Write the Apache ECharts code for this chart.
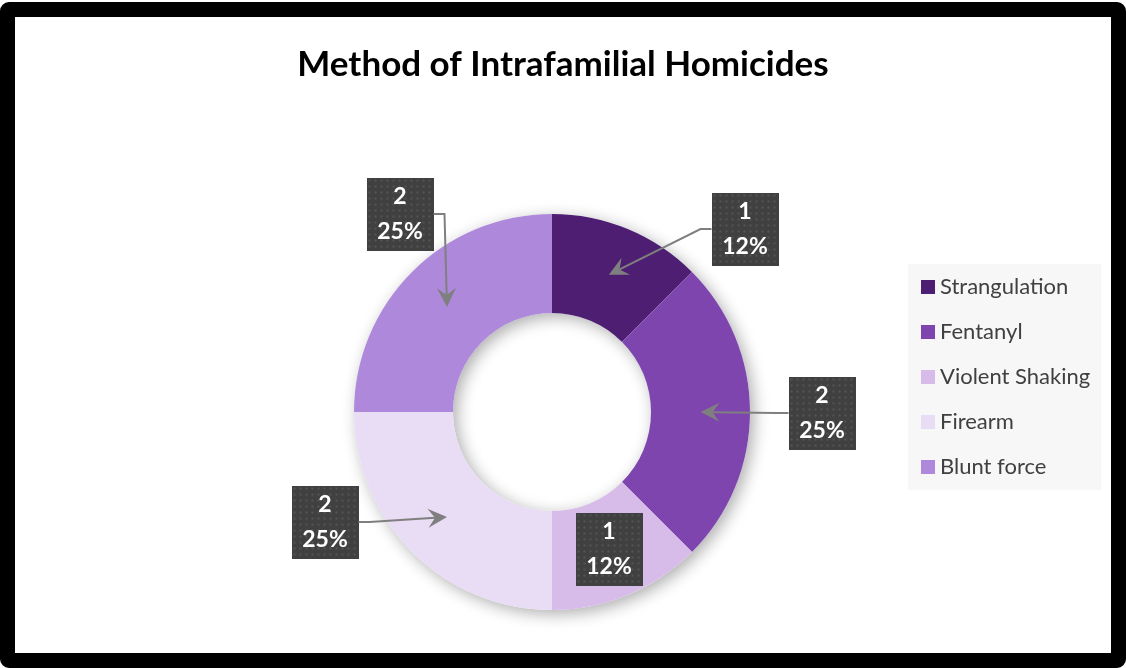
<!DOCTYPE html>
<html>
<head>
<meta charset="utf-8">
<script src="https://cdn.jsdelivr.net/npm/echarts@6/dist/echarts.min.js"></script>
<style>
  html, body { margin: 0; padding: 0; background: #fff; }
  .frame {
    position: absolute;
    left: 0; top: 2px;
    width: 1126px; height: 666px;
    box-sizing: border-box;
    border: 15px solid #000;
    border-radius: 9px;
    background: #fff;
  }
  #chart { width: 1096px; height: 636px; }
</style>
</head>
<body>
<div class="frame"><div id="chart"></div></div>
<script>
const methods = ['Strangulation', 'Fentanyl', 'Violent Shaking', 'Firearm', 'Blunt force'];
const counts = [1, 2, 1, 2, 2];
const sliceColors = ['#4d1e72', '#7e45ae', '#d7bce9', '#e9dcf5', '#ae88db'];

// layout (px, relative to chart box)
const CX = 537, CY = 395, R_IN = 99, R_OUT = 198;
const R_MID = (R_IN + R_OUT) / 2;
const BOX_W = 67;
const labelSpots = [[730, 212], [807, 396], [594, 532], [310, 505], [385, 197]];
const hasArrow = [true, true, false, true, true];
const FONT = 'Lato, "Open Sans", sans-serif';

const total = counts.reduce((a, b) => a + b, 0);
let acc = 0;
const tips = counts.map((v) => {
  const a = ((acc + v / 2) / total) * Math.PI * 2;
  acc += v;
  return [CX + R_MID * Math.sin(a), CY - R_MID * Math.cos(a)];
});

// dotted dark texture for the data label boxes
const makeTexture = () => {
  const c = document.createElement('canvas');
  c.width = BOX_W; c.height = 73;
  const g = c.getContext('2d');
  g.fillStyle = '#404040';
  g.fillRect(0, 0, c.width, c.height);
  g.fillStyle = '#545454';
  for (let y = 2; y < c.height; y += 6) {
    for (let x = 2; x < c.width; x += 6) g.fillRect(x, y, 2, 2);
  }
  return c;
};
const texture = makeTexture();

const arrowParts = (i) => {
  const [lx, ly] = labelSpots[i];
  const tip = tips[i];
  const dir = tip[0] < lx ? -1 : 1;
  const sx = lx + dir * BOX_W / 2;
  const bend = [sx + dir * 11, ly];
  const dx = tip[0] - bend[0], dy = tip[1] - bend[1];
  const len = Math.hypot(dx, dy);
  const ux = dx / len, uy = dy / len;
  const px = -uy, py = ux;
  const L = 19, W = 9.5, N = 12;
  const end = [tip[0] - ux * N, tip[1] - uy * N];
  return {
    line: [[sx, ly], bend, end],
    head: [
      tip,
      [tip[0] - ux * L + px * W, tip[1] - uy * L + py * W],
      [tip[0] - ux * N, tip[1] - uy * N],
      [tip[0] - ux * L - px * W, tip[1] - uy * L - py * W],
    ],
  };
};

const arrows = [];
counts.forEach((v, i) => {
  if (!hasArrow[i]) return;
  const { line, head } = arrowParts(i);
  arrows.push({
    type: 'polyline',
    z: 100,
    silent: true,
    shape: { points: line },
    style: { stroke: '#7f7f7f', lineWidth: 2, fill: null },
  });
  arrows.push({
    type: 'polygon',
    z: 100,
    silent: true,
    shape: { points: head },
    style: { fill: '#7f7f7f' },
  });
});

const chart = echarts.init(document.getElementById('chart'));

chart.setOption({
  animation: false,
  title: {
    text: 'Method of Intrafamilial Homicides',
    left: 'center',
    top: 25,
    textStyle: { fontFamily: FONT, fontSize: 35, fontWeight: 'bold', color: '#000' },
  },
  legend: {
    orient: 'vertical',
    left: 893,
    top: 247,
    data: methods,
    icon: 'rect',
    itemWidth: 14,
    itemHeight: 14,
    itemGap: 23,
    padding: [12, 11, 12, 13],
    backgroundColor: '#f7f7f7',
    selectedMode: false,
    textStyle: { fontFamily: FONT, fontSize: 22, color: '#404040' },
  },
  graphic: arrows,
  series: [
    {
      // soft shadow under the ring
      type: 'pie',
      silent: true,
      center: [CX, CY],
      radius: [R_IN, R_OUT],
      label: { show: false },
      labelLine: { show: false },
      itemStyle: {
        color: '#fff',
        shadowBlur: 16,
        shadowOffsetX: 4,
        shadowOffsetY: 4,
        shadowColor: 'rgba(0,0,0,0.32)',
      },
      data: [{ value: 1, name: '_ring' }],
    },
    {
      type: 'pie',
      center: [CX, CY],
      radius: [R_IN, R_OUT],
      startAngle: 90,
      clockwise: true,
      avoidLabelOverlap: false,
      emphasis: { disabled: true },
      data: methods.map((name, i) => ({
        name,
        value: counts[i],
        itemStyle: { color: sliceColors[i] },
      })),
      label: {
        show: true,
        position: 'outside',
        formatter: (p) => `${p.value}\n${Math.floor(p.percent)}%`,
        fontFamily: FONT,
        fontSize: 23,
        fontWeight: 'bold',
        color: '#fff',
        lineHeight: 35,
        width: BOX_W,
        align: 'center',
        padding: [2, 0, 1, 0],
        backgroundColor: { image: texture },
        shadowBlur: 6,
        shadowOffsetX: 3,
        shadowOffsetY: 3,
        shadowColor: 'rgba(0,0,0,0.45)',
      },
      labelLine: { show: false },
      labelLayout: (p) => {
        const [lx, ly] = labelSpots[p.dataIndex];
        return { x: lx, y: ly, align: 'center', verticalAlign: 'middle' };
      },
    },
  ],
});
</script>
</body>
</html>
